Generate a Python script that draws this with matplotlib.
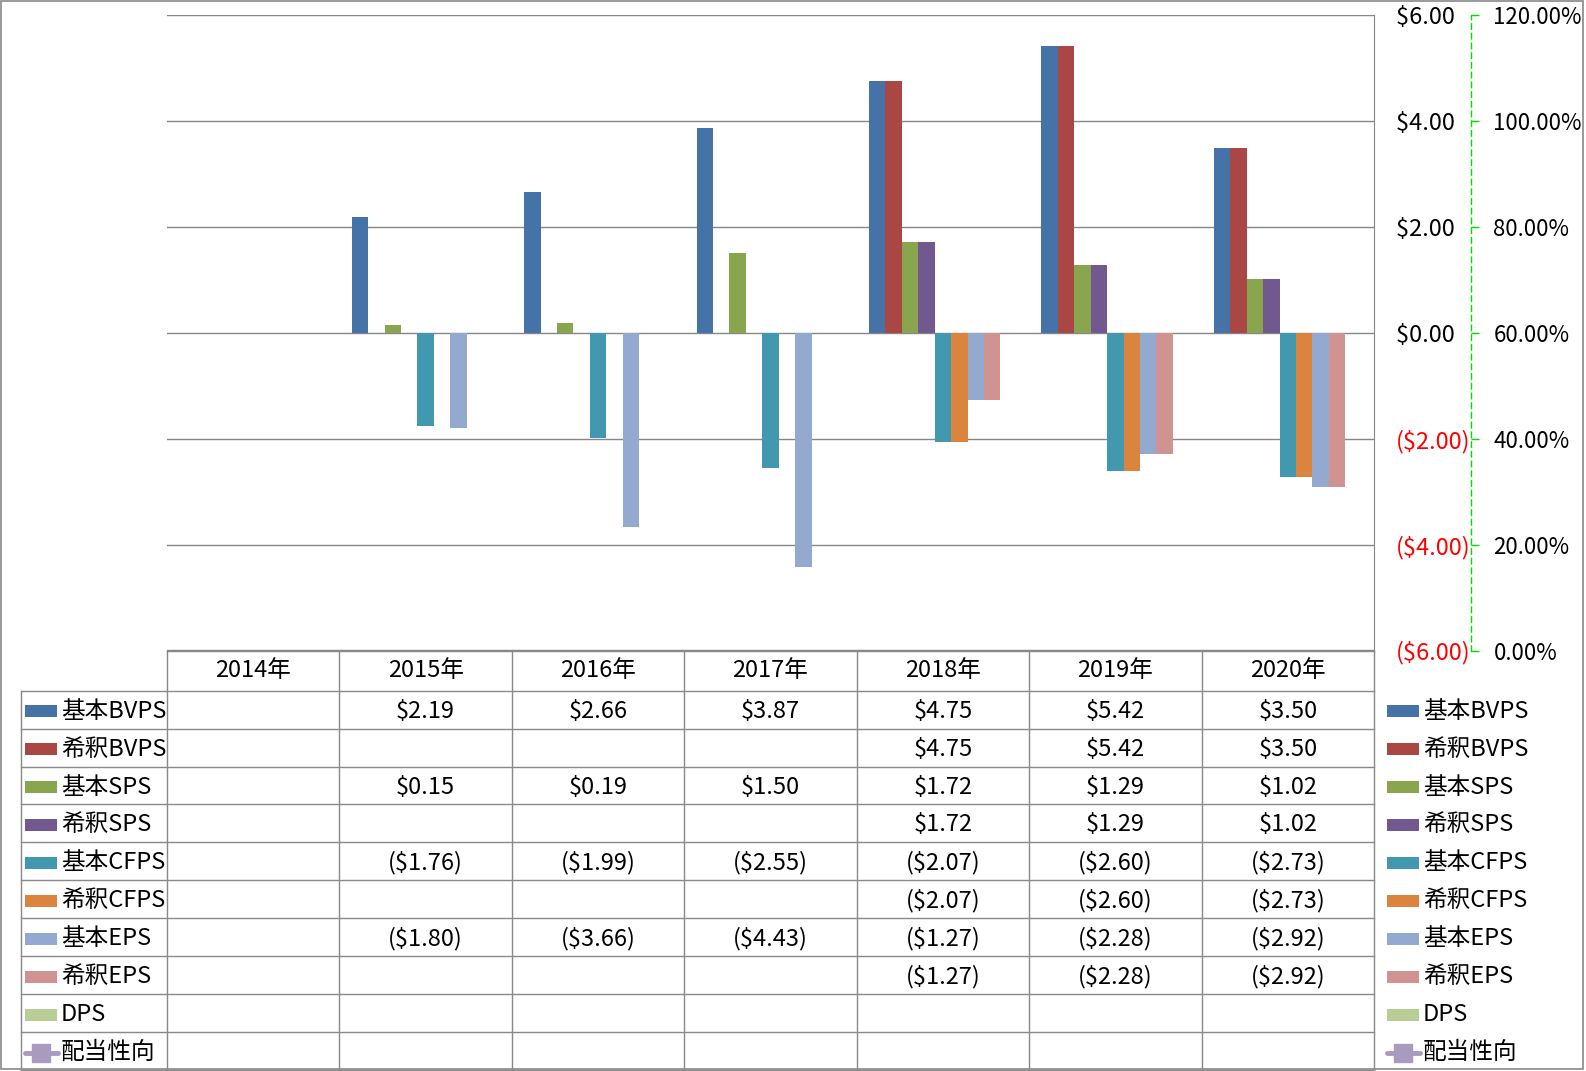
import numpy as np
import matplotlib
matplotlib.use('Agg')
import matplotlib.pyplot as plt
from matplotlib.lines import Line2D
from matplotlib.patches import Rectangle

plt.rcParams['font.family'] = ['Noto Sans CJK JP', 'DejaVu Sans']

# データ
years = ['2014年', '2015年', '2016年', '2017年', '2018年', '2019年', '2020年']
series_names = ['基本BVPS', '希釈BVPS', '基本SPS', '希釈SPS', '基本CFPS',
                '希釈CFPS', '基本EPS', '希釈EPS', 'DPS']
nan = np.nan
basic_bvps = [nan, 2.19, 2.66, 3.87, 4.75, 5.42, 3.50]
dil_bvps = [nan, nan, nan, nan, 4.75, 5.42, 3.50]
basic_sps = [nan, 0.15, 0.19, 1.50, 1.72, 1.29, 1.02]
dil_sps = [nan, nan, nan, nan, 1.72, 1.29, 1.02]
basic_cfps = [nan, -1.76, -1.99, -2.55, -2.07, -2.60, -2.73]
dil_cfps = [nan, nan, nan, nan, -2.07, -2.60, -2.73]
basic_eps = [nan, -1.80, -3.66, -4.43, -1.27, -2.28, -2.92]
dil_eps = [nan, nan, nan, nan, -1.27, -2.28, -2.92]
dps = [nan] * 7
payout = [nan] * 7  # 配当性向 (第2軸)

series_values = [basic_bvps, dil_bvps, basic_sps, dil_sps, basic_cfps,
                 dil_cfps, basic_eps, dil_eps, dps]
colors = ['#4572A7', '#AA4643', '#89A54E', '#71588F', '#4198AF',
          '#DB843D', '#93A9CF', '#D19392', '#B9CD96']
payout_color = '#A99BBD'

W, H = 1586, 1071
fig = plt.figure(figsize=(W / 100, H / 100), dpi=100)

def fx(x):
    return x / W

def fy(y):
    return 1 - y / H

# プロット領域 (ピクセル座標)
L, R, T, B = 167, 1374, 15.3, 650.5
ax = fig.add_axes([fx(L), fy(B), fx(R) - fx(L), fy(T) - fy(B)])
ax2 = ax.twinx()

n = len(series_values)
w = 0.0952
x = np.arange(len(years))
for i, (vals, c) in enumerate(zip(series_values, colors)):
    ax.bar(x + (i - (n - 1) / 2) * w, vals, width=w, color=c, zorder=3, linewidth=0)

ax.set_xlim(-0.5, len(years) - 0.5)
ax.set_ylim(-6, 6)
ax.set_xticks([])
yt = [-6, -4, -2, 0, 2, 4, 6]
ax.set_yticks(yt)
ax.set_yticklabels([f'${v:.2f} ' if v >= 0 else f'(${-v:.2f})' for v in yt])
ax.yaxis.tick_right()
ax.tick_params(axis='y', length=0, pad=15.5, labelsize=17)
for t, v in zip(ax.yaxis.get_major_ticks(), yt):
    t.label2.set_color('red' if v < 0 else 'black')
for v in yt:
    ax.axhline(v, color='#868686', lw=1.0, zorder=1)
for s in ['top', 'left', 'bottom']:
    ax.spines[s].set_visible(False)
ax.spines['right'].set_color('#868686')

# 第2軸
ax2.plot(x, payout, color=payout_color, marker='s')
ax2.set_ylim(0, 1.2)
pt = [0, 0.2, 0.4, 0.6, 0.8, 1.0, 1.2]
ax2.set_yticks(pt)
ax2.set_yticklabels([f'{v * 100:.2f}%' for v in pt])
ax2.spines['right'].set_position(('outward', 69.5))
ax2.spines['right'].set_color('#00E000')
ax2.spines['right'].set_linestyle((0, (4, 3)))
ax2.spines['right'].set_linewidth(1.0)
for s in ['top', 'left', 'bottom']:
    ax2.spines[s].set_visible(False)
ax2.tick_params(axis='y', length=6, width=1.0, color='#00E000', pad=10.5, labelsize=16)

# データテーブル
grid_c = '#898989'
col_w = (R - L) / len(years)
row_y = np.linspace(690.7, 1070, 11)
head_top = 650.7

def hline(x0, x1, y):
    fig.add_artist(Line2D([fx(x0), fx(x1)], [fy(y), fy(y)], color=grid_c, lw=1.0))

def vline(xx, y0, y1):
    fig.add_artist(Line2D([fx(xx), fx(xx)], [fy(y0), fy(y1)], color=grid_c, lw=1.0))

hline(L, R, head_top)
for yy in row_y:
    hline(21, R, yy)
for k in range(len(years) + 1):
    vline(L + k * col_w, head_top, 1070)
vline(21, row_y[0], 1070)

for k, yr in enumerate(years):
    fig.text(fx(L + (k + 0.5) * col_w), fy((head_top + row_y[0]) / 2), yr,
             ha='center', va='center', fontsize=17)

def fmt(v):
    if np.isnan(v):
        return ''
    return f'${v:.2f}' if v >= 0 else f'(${-v:.2f})'

all_names = series_names + ['配当性向']
all_vals = series_values + [payout]
for r, (name, vals) in enumerate(zip(all_names, all_vals)):
    yc = (row_y[r] + row_y[r + 1]) / 2 + 1.5
    for k, v in enumerate(vals):
        t = fmt(v)
        if t:
            fig.text(fx(L + (k + 0.5) * col_w), fy(yc), t, ha='center', va='center', fontsize=17)
    # 左側の凡例キーと右側の凡例
    for sx, tx in [(25, 61), (1387, 1423)]:
        if r < n:
            fig.add_artist(Rectangle((fx(sx), fy(yc + 6)), fx(32), 12 / H,
                                     color=colors[r], lw=0))
        else:
            fig.add_artist(Line2D([fx(sx), fx(sx + 33)], [fy(yc), fy(yc)],
                                  color=payout_color, lw=3.5, solid_capstyle='round'))
            fig.add_artist(Line2D([fx(sx + 16)], [fy(yc)], color=payout_color,
                                  marker='s', markersize=13, lw=0))
        fig.text(fx(tx), fy(yc), name, ha='left', va='center', fontsize=17)

# 外枠
fig.add_artist(Rectangle((fx(1), fy(1069)), fx(1582), 1068 / H, fill=False,
                         edgecolor='#888888', lw=1.2))

fig.savefig('out.png', dpi=100)
